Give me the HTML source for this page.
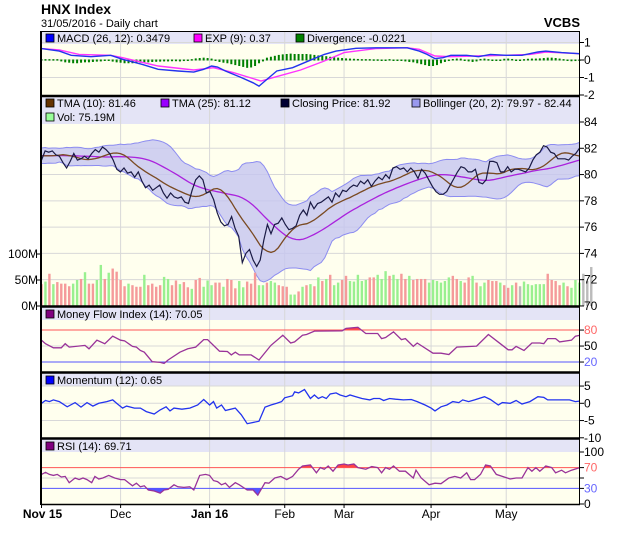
<!DOCTYPE html>
<html><head><meta charset="utf-8"><style>
html,body{margin:0;padding:0;background:#fff;}
svg{display:block;font-family:"Liberation Sans",sans-serif;}
</style></head><body>
<svg id="chart" width="620" height="535" viewBox="0 0 620 535" xmlns="http://www.w3.org/2000/svg">
<text x="41" y="14" font-size="14" font-weight="bold" fill="#000">HNX Index</text>
<text x="41" y="27" font-size="11" fill="#000">31/05/2016 - Daily chart</text>
<text x="580" y="27" font-size="13" font-weight="bold" text-anchor="end" fill="#000">VCBS</text>
<g id="layers"></g>
</svg>
<script>
// ---------- DATA ----------
const monthLabels = ["Nov 15","Dec","Jan 16","Feb","Mar","Apr","May"];
const monthDays = [0,20,42.5,61.5,76.5,98.5,117.5];
const monthBold = [true,false,true,false,false,false,false];

const priorClose = [81.2,81.6,81.9,81.4,81.0,81.5,82.0,81.7,81.3,80.9,81.4,81.8,81.6,81.2,81.0,81.5,81.9,81.6,81.3,81.1,81.4,81.7,81.5,81.2];
const closePrices = [81.1,81.8,81.7,81.8,81.5,81.4,80.9,80.5,81.0,81.6,81.1,81.2,81.4,81.2,81.6,81.9,81.7,82.1,81.9,81.6,81.1,80.4,80.2,80.5,80.1,80.2,79.8,80.2,79.5,79.0,79.2,78.8,79.0,79.2,78.6,78.2,78.6,78.3,78.2,78.3,77.9,77.8,78.8,79.6,79.9,79.6,78.6,78.7,78.1,77.1,76.4,76.1,76.2,76.8,75.9,75.3,73.3,74.0,74.3,73.5,73.0,73.5,75.0,76.2,75.5,76.2,76.3,76.7,76.2,75.8,75.9,76.1,76.9,77.3,76.9,77.9,77.4,77.8,77.9,78.1,78.3,77.9,78.6,78.3,78.8,78.7,79.0,79.2,79.1,79.5,79.3,79.6,79.1,79.5,79.8,79.6,80.0,79.7,80.5,80.6,80.4,80.5,80.2,80.5,80.2,79.7,80.4,80.1,79.6,79.1,78.7,78.5,78.5,78.7,79.2,79.7,80.2,80.6,80.5,80.2,80.2,80.4,79.4,79.3,79.6,81.0,81.0,80.9,80.2,80.2,80.6,80.2,80.4,80.4,80.3,80.2,80.5,81.1,81.5,81.7,82.2,82.1,81.7,81.6,81.2,81.2,81.2,81.1,81.4,81.6,82.0];

const volumes = [42,47,62,42,46,43,43,38,43,50,52,65,43,43,50,79,52,64,72,66,50,38,43,40,37,37,60,40,43,37,40,56,52,40,49,42,46,36,33,50,54,37,49,40,45,45,37,52,50,34,48,36,47,43,64,40,40,45,48,45,40,38,37,22,22,28,37,40,42,38,55,48,52,60,40,45,50,58,48,47,60,48,50,55,55,60,52,67,58,60,52,62,52,58,50,52,52,52,45,50,48,45,48,55,58,52,48,45,55,58,45,38,45,50,48,48,45,40,35,40,45,38,47,42,40,42,42,42,62,50,48,40,45,38,35,50,45,62,48,75];
const volColors = "rgrgrrrrggrgrrggrgrrrrgrrrgrrrrggrrgrrgrrgggrrgrrrggrrrggrggrrrggrgrgrgrgrggrrgggggrrgggrggrrgrrrrggggggrrgrrgrggrrrgrrgrxggggggrrrrgrggg";

const macdDays = [0,4.5,7.5,12.5,17.5,20.5,25.5,29.5,34.5,38.5,41,43,44.5,46.5,50.5,53.5,55,56.5,59.5,63.5,68.5,71.5,74.5,79.5,84.5,89.5,92.5,95.5,97.5,99.5,101.5,103.5,107.5,110.5,113.5,117.5,121.5,125.5,127.5,131.5,136];
const macdVals = [0.65,0.51,0.27,0.19,0.27,0.04,-0.25,-0.53,-0.63,-0.69,-0.53,-0.34,-0.40,-0.63,-1.0,-1.3,-1.49,-1.2,-0.63,-0.44,0.04,0.32,0.51,0.67,0.70,0.70,0.70,0.51,0.32,0.08,0.13,0.27,0.27,0.19,0.32,0.27,0.27,0.46,0.51,0.42,0.36];
const signalDays = [0,4.5,9.5,17.5,20.5,29.5,38.5,43.5,48.5,55.5,59.5,65.5,71.5,76.5,84.5,92.5,95.5,99.5,103.5,109.5,117.5,123.5,127.5,136];
const signalVals = [0.65,0.57,0.32,0.27,0.13,-0.34,-0.57,-0.44,-0.72,-1.2,-0.95,-0.57,-0.06,0.42,0.65,0.70,0.61,0.23,0.19,0.23,0.27,0.32,0.46,0.36];
const divVals = [0.02,0.02,0.02,0.02,0.02,-0.05,-0.1,-0.12,-0.15,-0.15,-0.12,-0.1,-0.1,-0.08,-0.06,-0.05,0,0,-0.06,-0.1,-0.12,-0.15,-0.15,-0.15,-0.13,-0.12,-0.1,-0.1,-0.08,-0.07,-0.06,-0.05,-0.05,-0.04,-0.04,-0.05,-0.03,-0.02,0.02,0.06,0.08,0.1,0.08,0.05,-0.02,-0.08,-0.12,-0.15,-0.2,-0.25,-0.3,-0.35,-0.4,-0.38,-0.3,-0.15,-0.05,0.1,0.15,0.2,0.25,0.28,0.3,0.32,0.3,0.3,0.3,0.3,0.28,0.25,0.22,0.2,0.18,0.15,0.12,0.1,0.08,0.06,0.05,0.04,0.03,0.02,0.02,0.02,0.01,0.01,0,0,0.02,0,0,0,-0.05,-0.08,-0.1,-0.15,-0.2,-0.25,-0.3,-0.3,-0.25,-0.15,-0.08,-0.03,0.03,0.05,0.05,0,-0.05,-0.08,-0.05,0.03,0.05,0.02,0,0,0,0.04,0.05,0.03,0,0,0.02,0.04,0.05,0.05,0.06,0.08,0.1,0.1,0.08,0.05,0.02,-0.02,-0.04,-0.03,-0.02];

const mfiDays = [0,1,3,5,6,7,11,12,14,16,18,20,21,23,24,25,26,28,30,31,32,35,37,39,41,42,45,47,48,49,50,53,55,58,61,63,64,66,67,69,76,77,80,82,85,86,87,89,91,92,94,95,99,101,103,105,110,113,116,118,119,120,122,124,126,127,128,130,131,134,135,136];
const mfiVals = [60.9,54.5,46.8,46.8,54.5,48.1,51.3,44.9,60.9,54.5,68.5,60.9,59.6,49.4,48.1,41.7,38.5,20.7,19.4,17.5,23.9,38.5,44.9,48.1,62.1,62.1,40.4,39.8,33.4,38.5,33.4,33.4,23.9,51.3,70.4,55.8,57.7,70.4,71.7,78.1,78.7,83.2,85.1,73.6,73.6,64.0,66.0,76.8,62.1,64.0,49.4,55.8,36.6,36.6,34.1,48.1,50.0,71.7,54.5,43.0,43.0,49.4,41.7,55.8,55.8,54.5,64.0,64.0,57.7,60.9,68.5,70.05];

const momDays = [0,1,2,3,4.5,6.5,8.5,10,11.5,13,14.5,16.5,18,19,20.5,21.5,23.5,25,26.5,28.5,30,31.5,32.5,33.5,35.5,37.5,39.5,41,42.5,43.5,44.3,45.5,46.5,49,50.5,52,55,56.5,58,59.5,60.7,61.5,63.5,64,65,66.5,68,69,70,71,72,73,74.5,75.5,77,78,79.5,81,83,84,85.5,86.5,88,89.5,91.5,93.5,95,97,98.5,99.5,101,102.5,104,105.5,106.5,108,109.5,112,113.5,115.5,116.5,118.5,120,121.5,123.5,125.5,127,128,129.5,133.5,135,136];
const momVals = [0,0.8,0.5,1.0,0.5,-1.0,0.2,-1.1,0.2,-0.8,0,0.5,1.0,0,-1.4,-0.8,-1.4,-1.4,-2.4,-3.1,-1.9,-1.0,-2.2,-1.4,-1.7,-1.4,-0.5,1.1,-0.5,0.5,-1.4,-0.5,-2.1,-1.4,-3.3,-5.9,-5.2,-1.1,-0.5,0,0.5,1.6,2.2,3.3,3.0,4.0,1.4,2.4,1.4,1.9,1.4,2.7,3.0,2.4,1.9,2.4,1.9,1.4,1.0,1.4,1.4,0.8,1.4,1.2,1.0,1.1,0.5,-0.5,-1.4,-2.2,-1.0,-0.5,0.5,0.2,1.0,0.5,1.0,1.9,1.1,-0.5,0.2,0,0.8,-0.2,0.5,1.9,1.7,1.0,1.0,1.0,0.5,0.65];

const rsiDays = [0,1,2,3,4,5,6,7,8.5,9.5,10.5,11.5,12.7,13.5,14.5,15.5,17,18.5,20,21,22,23,24,25,26,27,28.5,30,31,32,33.5,34.5,36,37.5,38.5,40,41.5,42.5,43.5,44.5,45.5,46.5,47.5,49,50,52,53.5,54.7,56.5,57.5,59,60.5,62,63.5,65,66,68,69.5,70.5,71.5,72.5,73.7,75,76.5,77.5,79,80,82,83.5,85,86,87,88,89,90.5,92,94,94.7,96,98,99.5,101,103,104.5,106,107.5,108.5,109.5,111,112.3,113.5,115,116.5,118.5,120,121.5,123,124,125,126,127.5,129,130,131.5,132.5,134,136];
const rsiVals = [57,61,57,55,57,52,53,41,50,47,50,47,41,53,48,50,55,50,47,47,41,35,40,33,35,27,25,21,27,28,37,33,32,33,27,55,57,55,45,43,37,40,32,41,37,27,27,17,41,40,50,53,47,53,67,73,75,60,70,67,73,63,75,77,75,77,70,67,72,70,60,70,67,73,63,63,50,65,50,37,40,39,50,53,50,60,47,47,57,75,73,57,53,48,50,50,70,63,70,63,73,70,60,65,60,65,69.71];

// ---------- HELPERS ----------
const NS="http://www.w3.org/2000/svg";
const root=document.getElementById('layers');
function mk(tag,attrs,parent){const e=document.createElementNS(NS,tag);for(const k in attrs)e.setAttribute(k,attrs[k]);(parent||root).appendChild(e);return e;}
const L=41,R=580,W=R-L;
const xDay=d=>41.5+d*3.955;
const pts=(days,vals,yf)=>days.map((d,i)=>xDay(d).toFixed(1)+","+yf(vals[i]).toFixed(1)).join(" ");
const CREAM="#ffffee",LAV="#e4e4f6",GRID="#d8d8d8";

function panel(name,top,hdrBot,bot){
  const bg=mk('rect',{x:L,y:top,width:W,height:bot-top,fill:CREAM});
  
  
  const h=mk('rect',{x:L,y:top,width:W,height:hdrBot-top,fill:LAV});
  
  
  monthDays.forEach((d,i)=>{ if(i>0){const g=mk('line',{x1:xDay(d),x2:xDay(d),y1:top,y2:bot,stroke:GRID,'stroke-width':1});
    
    }});
}
function hline(y,color,name){const l=mk('line',{x1:L,x2:R,y1:y,y2:y,stroke:color,'stroke-width':1});
  
  }
function tick(y,label,color,name){
  const t=mk('line',{x1:R,x2:R+4,y1:y,y2:y,stroke:'#000'});
  
  
  const tx=mk('text',{x:R+4,y:y+4,'font-size':12,fill:color||'#000'});tx.textContent=label;
  
  
}
function legend(x,y,color,label,name){
  const s=mk('rect',{x:x,y:y-8,width:8,height:8,fill:color,stroke:'#000','stroke-width':0.8});
  
  
  const t=mk('text',{x:x+11,y:y,'font-size':11,fill:'#000'});t.textContent=label;
  
  
}

// ---------- MACD PANEL ----------
const yM=v=>60-v*17.5;
panel('macd',31,44,96);
[1,0,-1].forEach(v=>hline(yM(v),GRID,'macd-gridline'));
divVals.forEach((v,d)=>{const y0=yM(0),y1=yM(v*1.05);
  const b=mk('rect',{x:xDay(d)-1,y:Math.min(y0,y1)-0.5,width:2,height:Math.max(1.5,Math.abs(y1-y0)+1),fill:'#008000'});
  
  });
let p=mk('polyline',{points:pts(signalDays,signalVals,yM),fill:'none',stroke:'#ff33ff','stroke-width':1.4});


p=mk('polyline',{points:pts(macdDays,macdVals,yM),fill:'none',stroke:'#2233ee','stroke-width':1.4});


legend(46,42,'#0000ff','MACD (26, 12): 0.3479','macd-legend');
legend(194,42,'#ff00ff','EXP (9): 0.37','exp-legend');
legend(296,42,'#008000','Divergence: -0.0221','divergence-legend');
[[1,'1'],[0,'0'],[-1,'-1'],[-2,'-2']].forEach(a=>tick(yM(a[0]),a[1],'#000','macd-axis'));

// ---------- MAIN PANEL ----------
const yP=v=>122+(84-v)*13.14;
const yV=v=>306-v*0.52;
panel('price',97,124,306);
[82,80,78,76,74,72].forEach(v=>hline(yP(v),GRID,'price-gridline'));
const all=priorClose.concat(closePrices);
const off=priorClose.length;
function sma(arr,n){return arr.map((_,i)=>{const s=arr.slice(Math.max(0,i-n+1),i+1);return s.reduce((a,b)=>a+b,0)/s.length;});}
const tma10=sma(sma(all,6),6).slice(off);
const tma25=sma(sma(all,13),13).slice(off);
const mid=sma(all,20);
const upper=[],lower=[];
all.forEach((_,i)=>{const s=all.slice(Math.max(0,i-19),i+1);const m=mid[i];const sd=Math.sqrt(s.reduce((a,b)=>a+(b-m)*(b-m),0)/s.length);upper.push(m+2*sd);lower.push(m-2*sd);});
const up=upper.slice(off),lo=lower.slice(off);
const cDay=i=>i*136/(closePrices.length-1);
const cDays=closePrices.map((_,i)=>cDay(i));
const bandPts=cDays.map((d,i)=>xDay(d).toFixed(1)+","+yP(up[i]).toFixed(1)).concat(cDays.map((d,i)=>xDay(d).toFixed(1)+","+yP(lo[i]).toFixed(1)).reverse()).join(" ");
p=mk('polygon',{points:bandPts,fill:'#c6c6f0','fill-opacity':0.8,stroke:'#8c8cf0','stroke-width':1});


volumes.forEach((v,d)=>{const c=volColors[d]==='g'?'#99f08f':(volColors[d]==='r'?'#f59a9a':'#bbbbbb');
  const b=mk('rect',{x:xDay(d)-1.2,y:yV(v),width:2.4,height:306-yV(v),fill:c});
  
  });
p=mk('polyline',{points:pts(cDays,tma25,yP),fill:'none',stroke:'#aa22dd','stroke-width':1.3});


p=mk('polyline',{points:pts(cDays,tma10,yP),fill:'none',stroke:'#7a4a22','stroke-width':1.3});


p=mk('polyline',{points:pts(cDays,closePrices,yP),fill:'none',stroke:'#1a1a44','stroke-width':1.2});


legend(46,107,'#663300','TMA (10): 81.46','tma10-legend');
legend(161,107,'#9900ff','TMA (25): 81.12','tma25-legend');
legend(281,107,'#000033','Closing Price: 81.92','close-legend');
legend(412,107,'#9999ee','Bollinger (20, 2): 79.97 - 82.44','bollinger-legend');
legend(46,121,'#99ff99','Vol: 75.19M','volume-legend');
[84,82,80,78,76,74,72,70].forEach(v=>tick(yP(v),String(v),'#000','price-axis'));
[[100,'100M'],[50,'50M'],[0,'0M']].forEach(a=>{const t=mk('text',{x:38,y:yV(a[0])+4,'font-size':12,'text-anchor':'end',fill:'#000'});t.textContent=a[1];
  
  
  const k=mk('line',{x1:37,x2:41,y1:yV(a[0]),y2:yV(a[0]),stroke:'#000'});
  
  });

// ---------- MFI ----------
const yF=v=>372.7-v*0.533;
panel('mfi',307,320,372);
hline(yF(50),GRID,'mfi-gridline');
mk('clipPath',{id:'mfiTop'},mk('defs',{}));
mk('rect',{x:L,y:300,width:W,height:yF(80)-300},document.getElementById('mfiTop'));
p=mk('polygon',{points:xDay(mfiDays[0])+","+yF(80)+" "+pts(mfiDays,mfiVals,yF)+" "+xDay(136)+","+yF(80),fill:'#ff4444','clip-path':'url(#mfiTop)'});


hline(yF(80),'#ff5555','mfi-80-line');
hline(yF(20),'#5555ff','mfi-20-line');
p=mk('polyline',{points:pts(mfiDays,mfiVals,yF),fill:'none',stroke:'#993399','stroke-width':1.3});


legend(46,318,'#800080','Money Flow Index (14): 70.05','mfi-legend');
tick(yF(80),'80','#ff6666','mfi-axis');tick(yF(50),'50','#000','mfi-axis');tick(yF(20),'20','#6666ff','mfi-axis');

// ---------- MOMENTUM ----------
const yO=v=>403.3-v*3.45;
panel('momentum',373,386,439);
[5,0,-5].forEach(v=>hline(yO(v),GRID,'momentum-gridline'));
p=mk('polyline',{points:pts(momDays,momVals,yO),fill:'none',stroke:'#2233ee','stroke-width':1.3});


legend(46,384,'#0000ff','Momentum (12): 0.65','momentum-legend');
[[5,'5'],[0,'0'],[-5,'-5'],[-10,'-10']].forEach(a=>tick(yO(a[0]),a[1],'#000','momentum-axis'));

// ---------- RSI ----------
const yR=v=>504-v*0.52;
panel('rsi',439,452,504);
hline(yR(50),GRID,'rsi-gridline');
const defs2=mk('defs',{});
mk('rect',{x:L,y:440,width:W,height:yR(70)-440},mk('clipPath',{id:'rsiTop'},defs2));
mk('rect',{x:L,y:yR(30),width:W,height:504-yR(30)},mk('clipPath',{id:'rsiBot'},defs2));
p=mk('polygon',{points:xDay(0)+","+yR(70)+" "+pts(rsiDays,rsiVals,yR)+" "+xDay(136)+","+yR(70),fill:'#ff4444','clip-path':'url(#rsiTop)'});


p=mk('polygon',{points:xDay(0)+","+yR(30)+" "+pts(rsiDays,rsiVals,yR)+" "+xDay(136)+","+yR(30),fill:'#5555ff','clip-path':'url(#rsiBot)'});


hline(yR(70),'#ff5555','rsi-70-line');
hline(yR(30),'#5555ff','rsi-30-line');
p=mk('polyline',{points:pts(rsiDays,rsiVals,yR),fill:'none',stroke:'#993399','stroke-width':1.3});


legend(46,450,'#800080','RSI (14): 69.71','rsi-legend');
tick(yR(100),'100','#000','rsi-axis');tick(yR(70),'70','#ff6666','rsi-axis');tick(yR(50),'','#000','rsi-axis');tick(yR(30),'30','#6666ff','rsi-axis');tick(yR(0),'0','#000','rsi-axis');

// ---------- BORDERS ----------
p=mk('rect',{x:L+0.5,y:31.5,width:W-1,height:473,fill:'none',stroke:'#000','stroke-width':1});


[96,306.5,372.5,438.5].forEach(y=>{const s=mk('line',{x1:L,x2:R,y1:y,y2:y,stroke:'#000','stroke-width':2.5});
  
  });
p=mk('line',{x1:L,x2:L,y1:31,y2:505,stroke:'#000','stroke-width':2});


p=mk('line',{x1:L,x2:R,y1:504.5,y2:504.5,stroke:'#000','stroke-width':1.5});



// ---------- X AXIS ----------
monthLabels.forEach((m,i)=>{const x=xDay(monthDays[i]);
  const k=mk('line',{x1:x,x2:x,y1:504,y2:508,stroke:'#000'});
  
  
  const t=mk('text',{x:i===0?x+1:x,y:518,'font-size':12,'text-anchor':'middle','font-weight':monthBold[i]?'bold':'normal',fill:'#000'});
  t.textContent=m;
  
  });
</script>
</body></html>
